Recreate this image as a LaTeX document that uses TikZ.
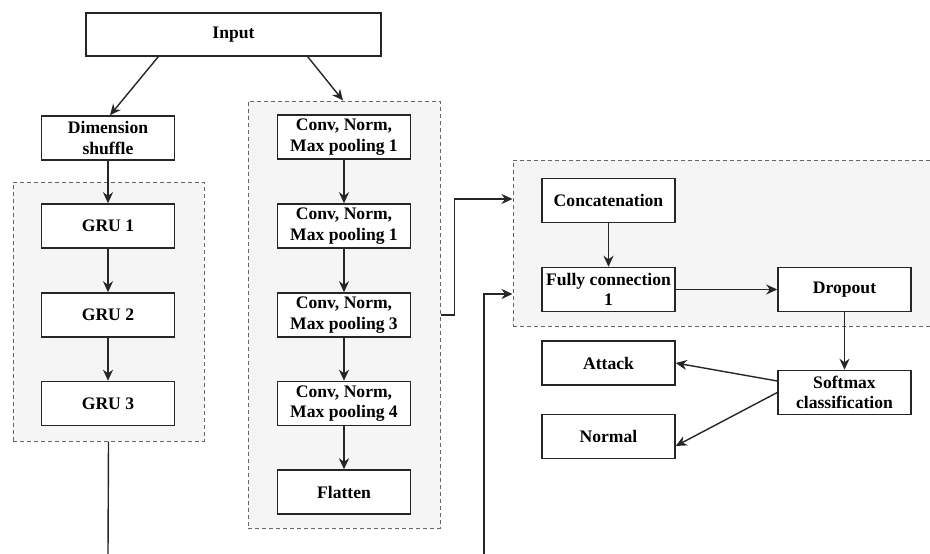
\documentclass[tikz,border=0pt]{standalone}
\usepackage{fontspec}
\setmainfont{Liberation Serif}
\usetikzlibrary{arrows.meta,calc}
\definecolor{grpfill}{HTML}{F5F5F5}
\definecolor{grpdraw}{HTML}{666666}
\begin{document}
\begin{tikzpicture}[x=1pt,y=-1pt,
  box/.style={draw=black!85,fill=white,line width=1.5pt,minimum width=133pt,minimum height=44pt,
    inner sep=1pt,align=center,font=\fontsize{17.6}{20.5}\selectfont\bfseries},
  grp/.style={draw=grpdraw,fill=grpfill,dashed,dash pattern=on 4pt off 3pt,line width=1pt,inner sep=0pt},
  conn/.style={line width=1.4pt,draw=black!85},
  arr/.style={conn,-{Stealth[length=11pt,width=10pt,inset=3.5pt]}}]
\useasboundingbox (0,0) rectangle (930,554);
% groups
\node[grp,minimum width=191pt,minimum height=259pt] (lg) at (108.5,311.5) {};
\node[grp,minimum width=192pt,minimum height=427pt] (mg) at (344,314.5) {};
\node[grp,minimum width=430pt,minimum height=166pt] (rg) at (728,243) {};
% boxes
\node[box,minimum width=295pt,minimum height=43pt] (in) at (233.5,34.5) {Input};
\node[box] (ds) at (108,138) {Dimension\\shuffle};
\node[box] (g1) at (108,226) {GRU 1};
\node[box] (g2) at (108,315) {GRU 2};
\node[box] (g3) at (108,403.5) {GRU 3};
\node[box] (c1) at (344,137) {Conv, Norm,\\Max pooling 1};
\node[box] (c2) at (344,226) {Conv, Norm,\\Max pooling 1};
\node[box] (c3) at (344,315) {Conv, Norm,\\Max pooling 3};
\node[box] (c4) at (344,403.5) {Conv, Norm,\\Max pooling 4};
\node[box] (fl) at (344,492) {Flatten};
\node[box] (cc) at (608.5,200.5) {Concatenation};
\node[box] (fc) at (608.5,289.5) {Fully connection\\1};
\node[box] (dr) at (844.5,289.5) {Dropout};
\node[box] (at) at (608.5,363) {Attack};
\node[box] (no) at (608.5,436.5) {Normal};
\node[box] (sm) at (844.5,392.5) {Softmax\\classification};
% free ends
\coordinate (lgend) at (108,554);
\coordinate (rstart) at (484,554);
% connectors
\draw[arr] ([xshift=73pt]in.south west) -- ([xshift=2pt]ds.north);
\draw[arr] ([xshift=-74pt]in.south east) -- ([xshift=-1pt]mg.north);
\draw[arr] (ds) -- (g1);
\draw[arr] (g1) -- (g2);
\draw[arr] (g2) -- (g3);
\draw[conn] (lg.south) -- (lgend);
\draw[arr] (c1) -- (c2);
\draw[arr] (c2) -- (c3);
\draw[arr] (c3) -- (c4);
\draw[arr] (c4) -- (fl);
\draw[arr] (mg.east |- c3.east) -- ++(14,0) |- ([yshift=1.5pt]rg.west |- cc.west);
\draw[arr] (rstart) |- ([yshift=-4.5pt]rg.west |- fc.west);
\draw[arr] (cc) -- (fc);
\draw[arr] (fc) -- (dr);
\draw[arr] (dr) -- (sm);
\draw[arr] ([yshift=11.5pt]sm.west) -- (at.east);
\draw[arr] (sm.west) -- ([yshift=-9.5pt]no.east);
\end{tikzpicture}
\end{document}
